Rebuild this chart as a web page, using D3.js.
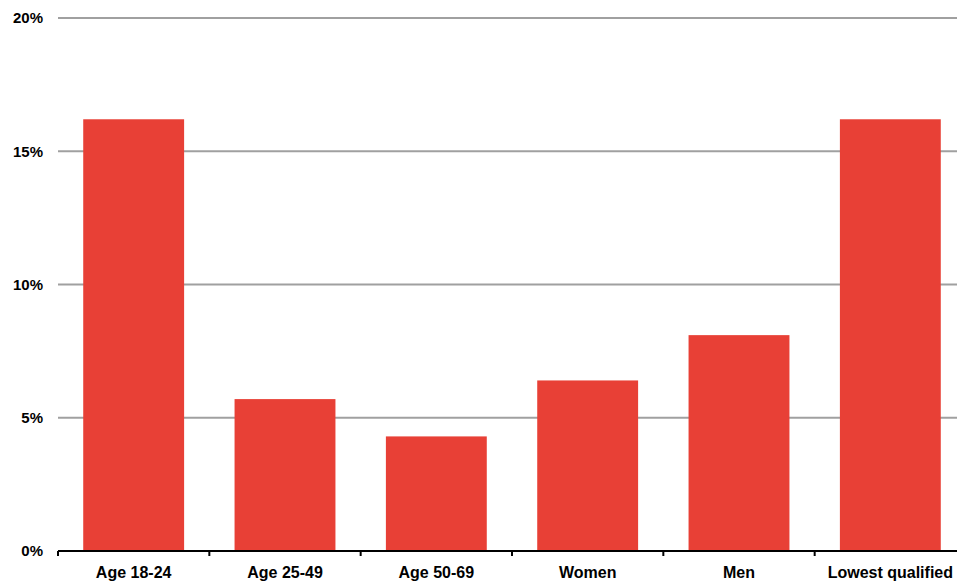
<!DOCTYPE html>
<html>
<head>
<meta charset="utf-8">
<script src="https://cdn.jsdelivr.net/npm/d3@7"></script>
<style>
  body { margin: 0; background: #fff; }
  text { font-family: "Liberation Sans", Arial, sans-serif; font-weight: bold; font-size: 15px; fill: #000; }
  .xlab text { font-size: 16px; }
</style>
</head>
<body>
<div id="chart"></div>
<script>
const categories = ['Age 18-24', 'Age 25-49', 'Age 50-69', 'Women', 'Men', 'Lowest qualified'];
const values = [16.2, 5.7, 4.3, 6.4, 8.1, 16.2];
const yTicks = [0, 5, 10, 15, 20];

const width = 957, height = 582;
const margin = { top: 18, right: -9, bottom: 31, left: 58 };
const innerW = width - margin.left - margin.right;
const innerH = height - margin.top - margin.bottom;

const svg = d3.select('#chart')
  .append('svg')
  .attr('width', width)
  .attr('height', height)
  .append('g')
  .attr('transform', 'translate(' + margin.left + ',' + margin.top + ')');

const x = d3.scaleBand()
  .domain(categories)
  .range([0, innerW])
  .paddingInner(1 / 3)
  .paddingOuter(1 / 6);

const y = d3.scaleLinear()
  .domain([0, 20])
  .range([innerH, 0]);

// gridlines
svg.append('g')
  .selectAll('line')
  .data(yTicks)
  .enter()
  .append('line')
  .attr('x1', 0)
  .attr('x2', innerW)
  .attr('y1', d => y(d))
  .attr('y2', d => y(d))
  .attr('stroke', '#a0a0a0')
  .attr('stroke-width', 2);

// y labels
svg.append('g')
  .selectAll('text')
  .data(yTicks)
  .enter()
  .append('text')
  .attr('x', -15)
  .attr('y', d => y(d))
  .attr('dy', '0.35em')
  .attr('text-anchor', 'end')
  .text(d => d + '%');

// bars
svg.append('g')
  .selectAll('rect')
  .data(values)
  .enter()
  .append('rect')
  .attr('x', (d, i) => x(categories[i]))
  .attr('width', x.bandwidth())
  .attr('y', d => y(d))
  .attr('height', d => innerH - y(d))
  .attr('fill', '#e84036');

// x axis line
svg.append('line')
  .attr('x1', 0)
  .attr('x2', innerW)
  .attr('y1', innerH)
  .attr('y2', innerH)
  .attr('stroke', '#000')
  .attr('stroke-width', 2);

// tick marks at band boundaries
const step = x.step();
svg.append('g')
  .selectAll('line')
  .data(d3.range(categories.length + 1))
  .enter()
  .append('line')
  .attr('x1', i => i * step)
  .attr('x2', i => i * step)
  .attr('y1', innerH)
  .attr('y2', innerH + 5)
  .attr('stroke', '#000')
  .attr('stroke-width', 2);

// x labels
svg.append('g')
  .attr('class', 'xlab')
  .selectAll('text')
  .data(categories)
  .enter()
  .append('text')
  .attr('x', d => x(d) + x.bandwidth() / 2)
  .attr('y', innerH + 21)
  .attr('dy', '0.35em')
  .attr('text-anchor', 'middle')
  .text(d => d);
</script>
</body>
</html>
